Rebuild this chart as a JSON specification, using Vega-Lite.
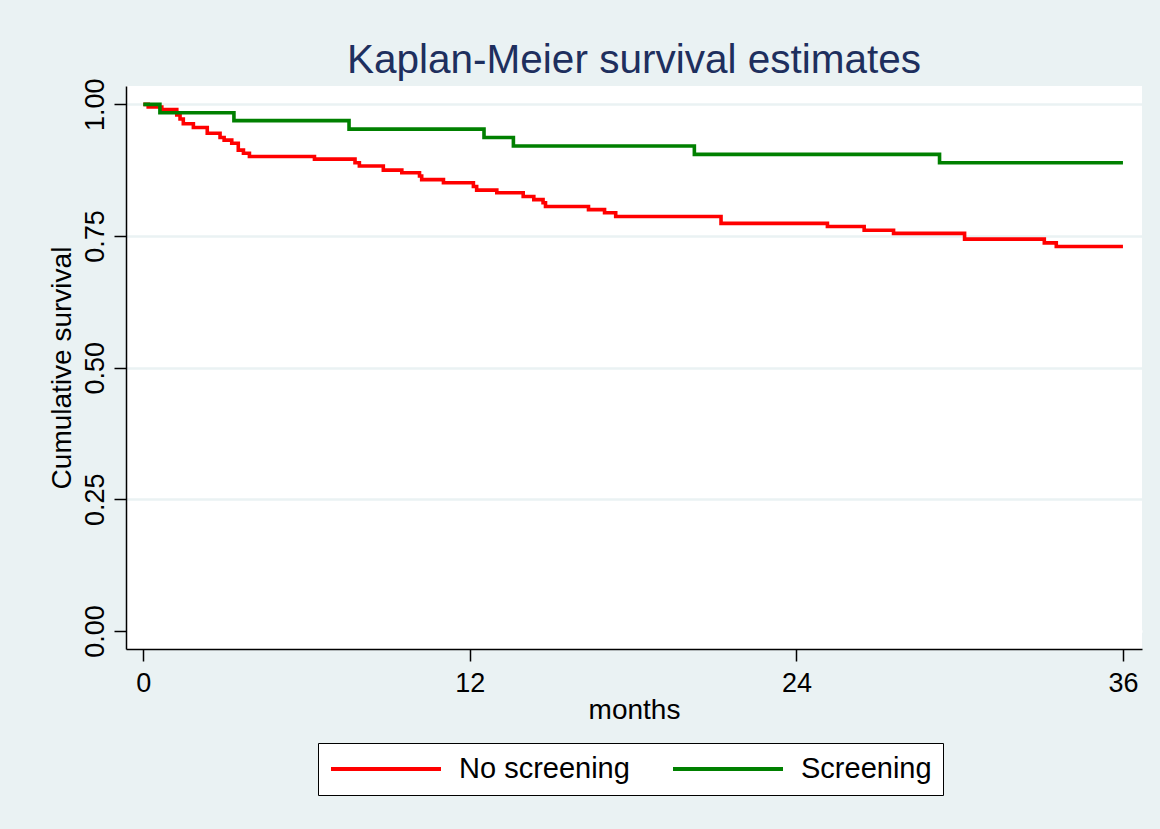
{
  "$schema": "https://vega.github.io/schema/vega-lite/v6.json",
  "width": 1016,
  "height": 563,
  "autosize": {"type": "none"},
  "padding": {"left": 126, "top": 86, "right": 18, "bottom": 180},
  "background": "#EAF2F3",
  "title": {
    "text": "Kaplan-Meier survival estimates",
    "font": "Liberation Sans",
    "fontSize": 40.5,
    "fontWeight": "normal",
    "color": "#1E2F5E",
    "anchor": "middle",
    "baseline": "alphabetic",
    "offset": -35
  },
  "data": {
    "values": [
      {"months": 0, "survival": 1.0, "group": "No screening"},
      {"months": 0.18, "survival": 0.995, "group": "No screening"},
      {"months": 0.68, "survival": 0.990, "group": "No screening"},
      {"months": 1.23, "survival": 0.980, "group": "No screening"},
      {"months": 1.35, "survival": 0.972, "group": "No screening"},
      {"months": 1.47, "survival": 0.963, "group": "No screening"},
      {"months": 1.84, "survival": 0.956, "group": "No screening"},
      {"months": 2.35, "survival": 0.945, "group": "No screening"},
      {"months": 2.82, "survival": 0.937, "group": "No screening"},
      {"months": 2.97, "survival": 0.932, "group": "No screening"},
      {"months": 3.25, "survival": 0.926, "group": "No screening"},
      {"months": 3.49, "survival": 0.913, "group": "No screening"},
      {"months": 3.68, "survival": 0.907, "group": "No screening"},
      {"months": 3.90, "survival": 0.901, "group": "No screening"},
      {"months": 6.29, "survival": 0.896, "group": "No screening"},
      {"months": 7.78, "survival": 0.889, "group": "No screening"},
      {"months": 7.94, "survival": 0.883, "group": "No screening"},
      {"months": 8.82, "survival": 0.875, "group": "No screening"},
      {"months": 9.50, "survival": 0.870, "group": "No screening"},
      {"months": 10.15, "survival": 0.864, "group": "No screening"},
      {"months": 10.23, "survival": 0.857, "group": "No screening"},
      {"months": 11.03, "survival": 0.851, "group": "No screening"},
      {"months": 12.13, "survival": 0.844, "group": "No screening"},
      {"months": 12.25, "survival": 0.837, "group": "No screening"},
      {"months": 12.99, "survival": 0.832, "group": "No screening"},
      {"months": 13.96, "survival": 0.825, "group": "No screening"},
      {"months": 14.35, "survival": 0.819, "group": "No screening"},
      {"months": 14.69, "survival": 0.813, "group": "No screening"},
      {"months": 14.78, "survival": 0.806, "group": "No screening"},
      {"months": 16.36, "survival": 0.800, "group": "No screening"},
      {"months": 16.95, "survival": 0.794, "group": "No screening"},
      {"months": 17.36, "survival": 0.787, "group": "No screening"},
      {"months": 21.23, "survival": 0.774, "group": "No screening"},
      {"months": 25.14, "survival": 0.768, "group": "No screening"},
      {"months": 26.49, "survival": 0.761, "group": "No screening"},
      {"months": 27.57, "survival": 0.755, "group": "No screening"},
      {"months": 30.18, "survival": 0.744, "group": "No screening"},
      {"months": 33.11, "survival": 0.737, "group": "No screening"},
      {"months": 33.55, "survival": 0.730, "group": "No screening"},
      {"months": 36, "survival": 0.730, "group": "No screening"},
      {"months": 0, "survival": 1.0, "group": "Screening"},
      {"months": 0.61, "survival": 0.984, "group": "Screening"},
      {"months": 3.33, "survival": 0.969, "group": "Screening"},
      {"months": 7.56, "survival": 0.953, "group": "Screening"},
      {"months": 12.52, "survival": 0.937, "group": "Screening"},
      {"months": 13.6, "survival": 0.921, "group": "Screening"},
      {"months": 20.25, "survival": 0.905, "group": "Screening"},
      {"months": 29.26, "survival": 0.889, "group": "Screening"},
      {"months": 36, "survival": 0.889, "group": "Screening"}
    ]
  },
  "mark": {"type": "line", "interpolate": "step-after", "strokeWidth": 3.6, "strokeCap": "butt"},
  "encoding": {
    "x": {
      "field": "months",
      "type": "quantitative",
      "scale": {"domain": [-0.636, 36.70], "nice": false, "zero": false},
      "axis": {
        "values": [0, 12, 24, 36],
        "format": "d",
        "grid": false,
        "title": "months",
        "titleX": 508,
        "titleY": 69,
        "titleBaseline": "alphabetic",
        "titleAlign": "center",
        "labelPadding": 9
      }
    },
    "y": {
      "field": "survival",
      "type": "quantitative",
      "scale": {"domain": [-0.0342, 1.0348], "nice": false, "zero": false},
      "axis": {
        "values": [0, 0.25, 0.5, 0.75, 1],
        "format": ".2f",
        "grid": true,
        "gridColor": {"condition": {"test": "datum.value === 0", "value": "white"}, "value": "#EAF2F3"},
        "gridWidth": 2.5,
        "labelAngle": 270,
        "labelAlign": "center",
        "labelBaseline": "alphabetic",
        "labelPadding": 11,
        "title": "Cumulative survival",
        "titleAngle": 270,
        "titleX": -56,
        "titleY": 281.5,
        "titleAlign": "center",
        "titleBaseline": "alphabetic"
      }
    },
    "color": {
      "field": "group",
      "type": "nominal",
      "scale": {"domain": ["No screening", "Screening"], "range": ["#FF0000", "#008000"]},
      "legend": {
        "title": null,
        "orient": "none",
        "legendX": 192,
        "legendY": 657,
        "direction": "horizontal",
        "symbolType": "stroke",
        "symbolSize": 12100,
        "symbolStrokeWidth": 4,
        "clipHeight": 30,
        "labelFontSize": 29,
        "labelLimit": 400,
        "labelOffset": 16,
        "columnPadding": 41,
        "padding": 11,
        "fillColor": "white",
        "strokeColor": "black"
      }
    }
  },
  "config": {
    "view": {"stroke": null, "fill": "white"},
    "font": "Liberation Sans",
    "axis": {
      "domainColor": "black",
      "domainWidth": 1.5,
      "tickColor": "black",
      "tickWidth": 1.5,
      "tickSize": 12,
      "labelFont": "Liberation Sans",
      "labelFontSize": 27,
      "labelColor": "black",
      "titleFont": "Liberation Sans",
      "titleFontSize": 28,
      "titleFontWeight": "normal",
      "titleColor": "black"
    },
    "legend": {
      "labelFont": "Liberation Sans",
      "labelColor": "black"
    }
  }
}
